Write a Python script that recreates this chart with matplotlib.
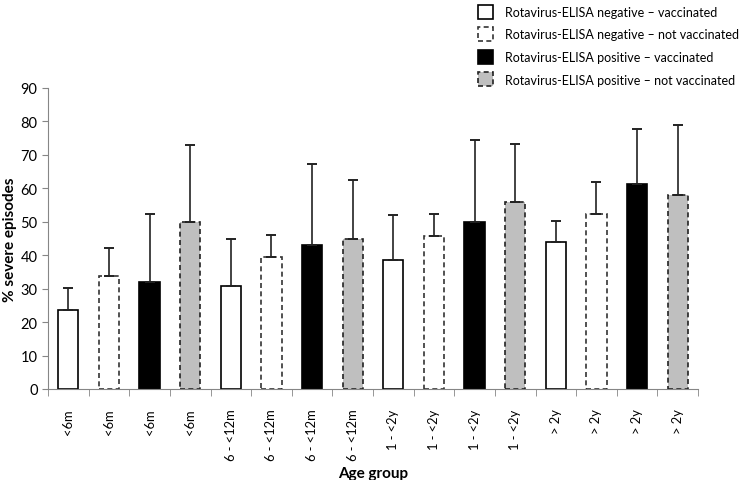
import matplotlib.pyplot as plt
import numpy as np
from matplotlib.patches import Patch

plt.rcParams["font.family"] = ["Lato", "DejaVu Sans"]

groups = ["<6m", "6 - <12m", "1 - <2y", "> 2y"]
series_names = [
    "Rotavirus-ELISA negative \u2013 vaccinated",
    "Rotavirus-ELISA negative \u2013 not vaccinated",
    "Rotavirus-ELISA positive \u2013 vaccinated",
    "Rotavirus-ELISA positive \u2013 not vaccinated",
]
neg_vacc = [23.6, 30.9, 38.6, 43.9]
neg_notvacc = [33.9, 39.4, 45.7, 52.3]
pos_vacc = [32.1, 42.9, 50.0, 61.3]
pos_notvacc = [49.9, 44.7, 55.9, 58.0]
# upper ends of the error bars
neg_vacc_hi = [30.1, 44.7, 52.0, 50.3]
neg_notvacc_hi = [42.2, 45.9, 52.2, 62.0]
pos_vacc_hi = [52.3, 67.3, 74.5, 77.6]
pos_notvacc_hi = [73.0, 62.5, 73.3, 78.9]

values = [neg_vacc, neg_notvacc, pos_vacc, pos_notvacc]
uppers = [neg_vacc_hi, neg_notvacc_hi, pos_vacc_hi, pos_notvacc_hi]
styles = [
    dict(facecolor="white", edgecolor="black", linestyle="-"),
    dict(facecolor="white", edgecolor="#333333", linestyle=(0, (3, 2))),
    dict(facecolor="black", edgecolor="black", linestyle="-"),
    dict(facecolor="#bfbfbf", edgecolor="#222222", linestyle=(0, (3, 2))),
]

fig = plt.figure(figsize=(7.42, 4.81), dpi=100)
ax = fig.add_axes([0.0647, 0.1892, 0.876, 0.626])

n_s = len(values)
labels = []
for g, grp in enumerate(groups):
    for s in range(n_s):
        labels.append(grp)

for s in range(n_s):
    x = np.arange(len(groups)) * n_s + s
    v = np.array(values[s])
    err = np.array(uppers[s]) - v
    ax.bar(x, v, width=0.5, linewidth=1.2, zorder=2, **styles[s])
    ax.errorbar(x, v, yerr=[np.zeros_like(err), err], fmt="none",
                ecolor="#222222", elinewidth=1.2, capsize=3.5, capthick=1.4, zorder=3)

n = len(labels)
ax.set_xlim(-0.5, n - 0.5)
ax.set_ylim(0, 90)
ax.set_yticks(np.arange(0, 91, 10))
ax.set_xticks(np.arange(n))
ax.set_xticklabels(labels, rotation=90, fontsize=9.3)
ax.set_xticks(np.arange(n + 1) - 0.5, minor=True)
ax.tick_params(axis="x", which="major", length=0, pad=14)
ax.tick_params(axis="x", which="minor", length=5, color="#868686")
ax.tick_params(axis="y", length=4, color="#868686", labelsize=10.5)
for side in ["top", "right"]:
    ax.spines[side].set_visible(False)
for side in ["left", "bottom"]:
    ax.spines[side].set_color("#868686")

ax.set_ylabel("% severe episodes", fontsize=11, fontweight="bold", va="center")
ax.yaxis.set_label_coords(-0.058, 0.5)
ax.set_xlabel("Age group", fontsize=11, fontweight="bold", va="top")
ax.xaxis.set_label_coords(0.5, -0.255)

handles = [Patch(linewidth=1.2, **st) for st in styles]
fig.legend(handles, series_names, loc="upper left", bbox_to_anchor=(0.644, 0.988),
           frameon=False, fontsize=9, handlelength=1.2, handleheight=1.35,
           labelspacing=0.68, handletextpad=0.96, borderpad=0, borderaxespad=0)

fig.savefig("out.png", dpi=100)
